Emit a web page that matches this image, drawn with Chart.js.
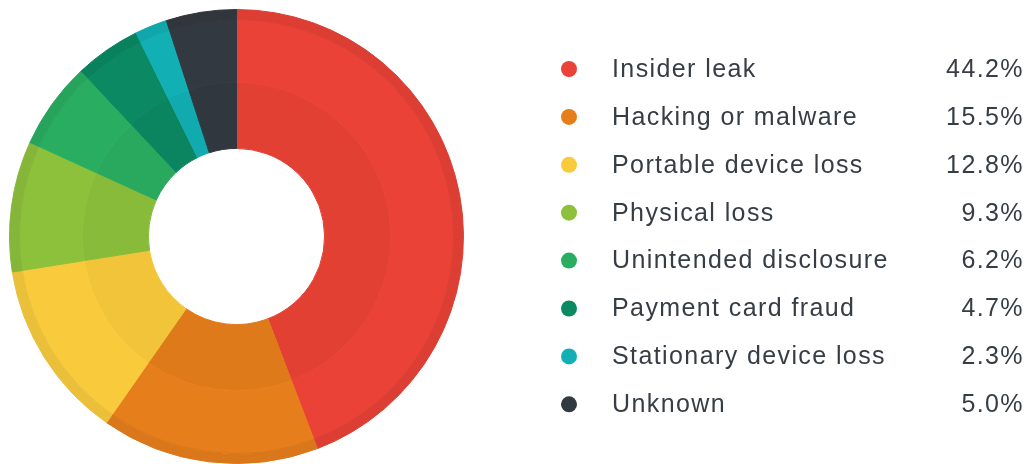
<!DOCTYPE html>
<html>
<head>
<meta charset="utf-8">
<script src="https://cdn.jsdelivr.net/npm/chart.js@4"></script>
<style>
  html, body { margin: 0; padding: 0; background: #fff; }
  #wrap { width: 1030px; height: 464px; }
</style>
</head>
<body>
<div id="wrap"><canvas id="graph1"></canvas></div>
<script>
// data
const categories = ['Insider leak', 'Hacking or malware', 'Portable device loss', 'Physical loss',
  'Unintended disclosure', 'Payment card fraud', 'Stationary device loss', 'Unknown'];
const shares = [44.2, 15.5, 12.8, 9.3, 6.2, 4.7, 2.3, 5.0];
const colors = ['#EA4236', '#E67E1C', '#F8CA3C', '#8DC13C', '#29AE61', '#0A8962', '#12B0B4', '#333940'];

function shade(hex, amt) {
  const n = parseInt(hex.slice(1), 16);
  const f = c => Math.max(0, Math.round(c * (1 - amt)));
  return 'rgb(' + f(n >> 16) + ',' + f((n >> 8) & 255) + ',' + f(n & 255) + ')';
}

const rimColors = colors.map(c => shade(c, 0.055));
const innerColors = colors.map(c => shade(c, 0.03));

// custom legend at the right, values right-aligned
const sideLegend = {
  id: 'sideLegend',
  afterDraw(chart) {
    const ctx = chart.ctx;
    ctx.save();
    ctx.font = '25px "Liberation Sans", Arial, sans-serif';
    ctx.letterSpacing = '1.4px';
    ctx.textBaseline = 'middle';
    categories.forEach((name, i) => {
      const y = 69 + i * 47.9;
      ctx.fillStyle = colors[i];
      ctx.beginPath();
      ctx.arc(569, y, 8, 0, Math.PI * 2);
      ctx.fill();
      ctx.fillStyle = '#373d44';
      ctx.textAlign = 'left';
      ctx.fillText(name, 612, y + 1);
      ctx.textAlign = 'right';
      ctx.fillText(shares[i].toFixed(1) + '%', 1024, y + 1);
    });
    ctx.restore();
  }
};

const ctx1 = document.getElementById('graph1').getContext('2d');
new Chart(ctx1, {
  type: 'doughnut',
  data: {
    labels: categories,
    datasets: [{
      // thin darker outer rim
      data: shares,
      backgroundColor: rimColors,
      borderColor: rimColors,
      borderWidth: 1,
      weight: 10
    }, {
      data: shares,
      backgroundColor: colors,
      borderColor: colors,
      borderWidth: 1,
      weight: 63
    }, {
      // slightly darker inner ring
      data: shares,
      backgroundColor: innerColors,
      borderColor: innerColors,
      borderWidth: 1,
      weight: 66
    }]
  },
  options: {
    responsive: true,
    maintainAspectRatio: false,
    animation: false,
    cutout: '38.8%',
    layout: { padding: { top: 9, bottom: 0, left: 9, right: 566 } },
    plugins: {
      legend: { display: false },
      tooltip: { enabled: false }
    }
  },
  plugins: [sideLegend]
});
</script>
</body>
</html>
